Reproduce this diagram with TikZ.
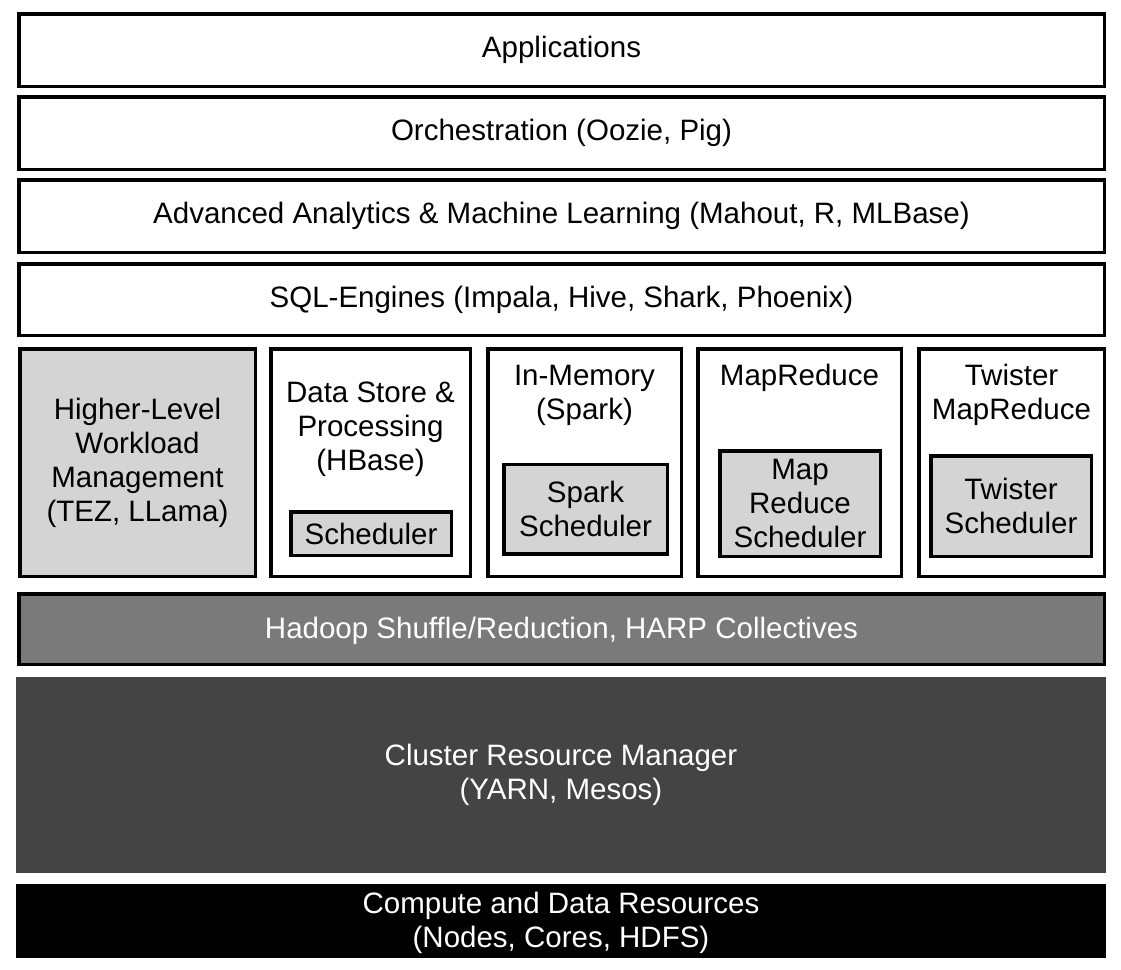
\documentclass[tikz,border=0pt]{standalone}
\usepackage{fontspec}
\setmainfont{Liberation Sans}
\begin{document}
\begin{tikzpicture}[x=1pt,y=-1pt,
  every node/.style={font=\fontsize{29.5}{34}\selectfont, inner sep=0pt, align=center},
  layer/.style={draw=black, line width=3.5pt, fill=white, minimum width=1085.5pt, minimum height=72.5pt},
  col/.style={draw=black, line width=3.5pt, fill=white, minimum height=227.5pt},
  sched/.style={draw=black, line width=3.5pt, fill=lightg},
  lbl/.style={},
  wlbl/.style={text=white}]
\definecolor{lightg}{HTML}{D4D4D4}
\definecolor{midg}{HTML}{7A7A7A}
\definecolor{darkg}{HTML}{444444}
\useasboundingbox (0,0) rectangle (1121,969);
\fill[white] (0,0) rectangle (1121,969);
% top layers
\node[layer] (app) at (561.5,50) {Applications};
\node[layer] (orch) at (561.5,133) {Orchestration (Oozie, Pig)};
\node[layer] (adv) at (561.5,216) {Advanced Analytics \& Machine Learning (Mahout, R, MLBase)};
\node[layer, minimum height=71.5pt] (sql) at (561.5,299.5) {SQL-Engines (Impala, Hive, Shark, Phoenix)};
% middle columns
\node[col, fill=lightg, minimum width=235.5pt] (hl) at (137.5,462.5) {Higher-Level\\Workload\\Management\\(TEZ, LLama)};
\node[col, minimum width=199.5pt] (ds) at (370.5,462.5) {};
\node[col, minimum width=193.5pt] (im) at (584.5,462.5) {};
\node[col, minimum width=203.5pt] (mr) at (799.5,462.5) {};
\node[col, minimum width=185.5pt] (tw) at (1011.5,462.5) {};
\node[lbl] (dst) at (370.5,429) {Data Store \&\\Processing\\(HBase)};
\node[lbl] (imt) at (584.5,395) {In-Memory\\(Spark)};
\node[lbl] (mrt) at (799.5,378) {MapReduce};
\node[lbl] (twt) at (1011.5,395) {Twister\\MapReduce};
\node[sched, minimum width=160.5pt, minimum height=43.5pt] (s2) at (371,533.5) {Scheduler};
\node[sched, minimum width=163.5pt, minimum height=89.5pt] (s3) at (585.5,509) {Spark\\Scheduler};
\node[sched, minimum width=160.5pt, minimum height=105.5pt] (s4) at (800,503.5) {Map\\Reduce\\Scheduler};
\node[sched, minimum width=160.5pt, minimum height=100.5pt] (s5) at (1011,506) {Twister\\Scheduler};
% lower layers
\node[layer, fill=midg, minimum height=70.5pt] (had) at (561.5,629) {};
\node[wlbl] (hadt) at (561.5,631) {Hadoop Shuffle/Reduction, HARP Collectives};
\node[fill=darkg, minimum width=1090pt, minimum height=196pt] (crm) at (561,775) {};
\node[wlbl] (crmt) at (561,775) {Cluster Resource Manager\\(YARN, Mesos)};
\node[fill=black, minimum width=1090pt, minimum height=74pt] (cdr) at (561,921) {};
\node[wlbl] (cdrt) at (561,923) {Compute and Data Resources\\(Nodes, Cores, HDFS)};
\end{tikzpicture}
\end{document}
